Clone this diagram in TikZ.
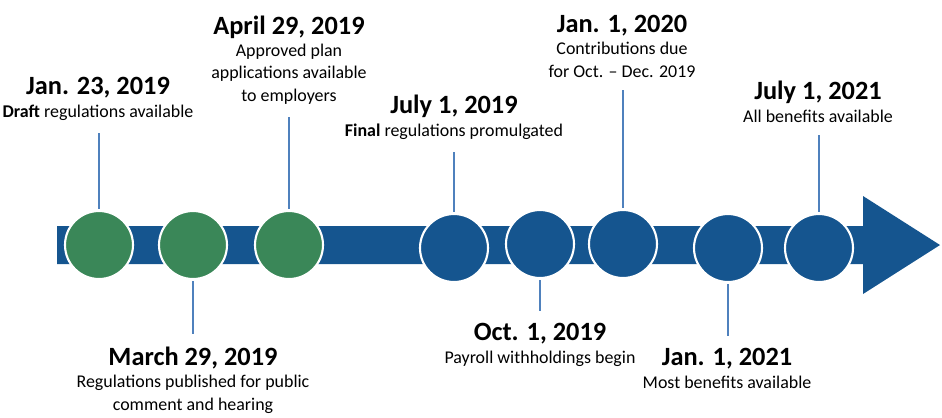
\documentclass[tikz,border=0pt]{standalone}
\usepackage{fontspec}
\setmainfont{Carlito}

\definecolor{barblue}{RGB}{21,85,143}
\definecolor{dotgreen}{RGB}{58,135,88}
\definecolor{stemblue}{RGB}{79,129,189}

\newcommand{\datefont}{\fontsize{15}{12.7}\selectfont\bfseries}

\tikzset{
  milestone/.style={circle, draw=white, line width=1.2pt, minimum size=1.36cm, inner sep=0pt},
  past/.style={milestone, fill=dotgreen},
  future/.style={milestone, fill=barblue},
  stem/.style={draw=stemblue, line width=1.1pt, shorten <=0.6pt},
  event/.style={align=center, anchor=base, inner xsep=0pt, inner ysep=7pt,
    font=\fontsize{10.2}{12.7}\selectfont}
}

\begin{document}
\begin{tikzpicture}[x=0.02cm, y=-0.02cm]
      \useasboundingbox (0,0) rectangle (942,417);

      % Arrow
      \fill[barblue] (57,226) -- (863,226) -- (863,196) -- (940,245)
        -- (863,294) -- (863,264) -- (57,264) -- cycle;

      % Milestones
      \node[past] (c1) at (99,245) {};
      \node[past] (c2) at (193,245) {};
      \node[past] (c3) at (289,245) {};
      \node[future] (c4) at (454,248) {};
      \node[future] (c5) at (540,244) {};
      \node[future] (c6) at (623,244) {};
      \node[future] (c7) at (728,248) {};
      \node[future] (c8) at (819,248) {};

      % Labels (placed at the baseline of their last line)
      \node[event] (l1) at (98,117) {{\datefont Jan. 23, 2019}\\\textbf{Draft} regulations available};
      \node[event] (l2) at (193,410) {{\datefont March 29, 2019}\\Regulations published for public\\comment and hearing};
      \node[event] (l3) at (289,101) {{\datefont April 29, 2019}\\Approved plan\\applications available\\to employers};
      \node[event] (l4) at (454,136) {{\datefont July 1, 2019}\\\textbf{Final} regulations promulgated};
      \node[event] (l5) at (540,363) {{\datefont Oct. 1, 2019}\\Payroll withholdings begin};
      \node[event] (l6) at (622,77) {{\datefont Jan. 1, 2020}\\Contributions due\\for Oct. – Dec. 2019};
      \node[event] (l7) at (727,388) {{\datefont Jan. 1, 2021}\\Most benefits available};
      \node[event] (l8) at (818,122) {{\datefont July 1, 2021}\\All benefits available};

      % Stems
      \draw[stem] (c1.north) -- (c1.north |- l1.south);
      \draw[stem] (c2.south) -- (c2.south |- l2.north);
      \draw[stem] (c3.north) -- (c3.north |- l3.south);
      \draw[stem] (c4.north) -- (c4.north |- l4.south);
      \draw[stem] (c5.south) -- (c5.south |- l5.north);
      \draw[stem] (c6.north) -- (c6.north |- l6.south);
      \draw[stem] (c7.south) -- (c7.south |- l7.north);
      \draw[stem] (c8.north) -- (c8.north |- l8.south);

    \end{tikzpicture}
\end{document}
